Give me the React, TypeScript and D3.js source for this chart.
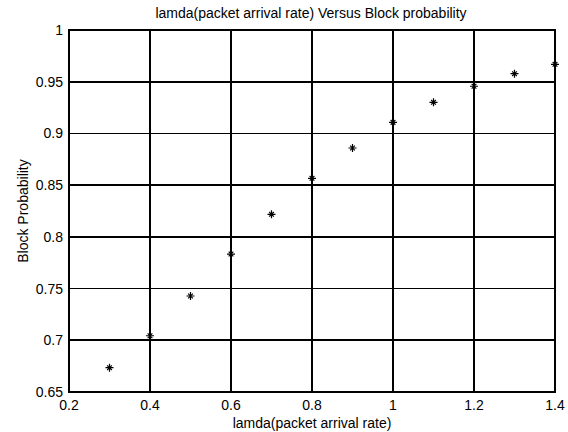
import * as d3 from "d3";

const width = 568;
const height = 432;
const margin = { left: 69, right: 13, top: 30, bottom: 40 };

const lamda = [0.3, 0.4, 0.5, 0.6, 0.7, 0.8, 0.9, 1.0, 1.1, 1.2, 1.3, 1.4];
const blockProb = [
  0.6735, 0.7044, 0.7428, 0.7834, 0.8218, 0.8566, 0.8859, 0.9107, 0.9301,
  0.9456, 0.9578, 0.9668,
];
const xTicks = [0.2, 0.4, 0.6, 0.8, 1, 1.2, 1.4];
const yTicks = [0.65, 0.7, 0.75, 0.8, 0.85, 0.9, 0.95, 1];

const title = "lamda(packet arrival rate) Versus Block probability";
const xLabel = "lamda(packet arrival rate)";
const yLabel = "Block Probability";

const font = "'Liberation Sans', Arial, sans-serif";

export default function App() {
  const x = d3
    .scaleLinear()
    .domain([0.2, 1.4])
    .range([margin.left, width - margin.right]);
  const y = d3
    .scaleLinear()
    .domain([0.65, 1])
    .range([height - margin.bottom, margin.top]);

  // MATLAB '*' marker = plus + small times
  const plus = d3.symbol(d3.symbolPlus, 23)();
  const times = d3.symbol(d3.symbolTimes, 16)();
  const [x0, x1] = x.range();
  const [y0, y1] = y.range();

  return (
    <div style={{ position: "absolute", left: 0, top: 0 }}>
      <svg width={width} height={height} style={{ display: "block", background: "#fff" }}>
        {/* grid */}
        <g stroke="#000" strokeWidth={1.7} shapeRendering="crispEdges">
          {xTicks.map((t) => (
            <line key={"gx" + t} x1={x(t)} x2={x(t)} y1={y1} y2={y0} />
          ))}
          {yTicks.map((t) => (
            <line key={"gy" + t} x1={x0} x2={x1} y1={y(t)} y2={y(t)} />
          ))}
        </g>
        <rect
          x={x0}
          y={y1}
          width={x1 - x0}
          height={y0 - y1}
          fill="none"
          stroke="#000"
          strokeWidth={2}
          shapeRendering="crispEdges"
        />

        {/* points */}
        <g stroke="#000" strokeWidth={1.2} fill="none">
          {lamda.map((d, i) => (
            <g key={d} transform={`translate(${x(d)},${y(blockProb[i])})`}>
              <path d={plus} />
              <path d={times} />
            </g>
          ))}
        </g>

        {/* tick labels */}
        <g fontFamily={font} fontSize={14} fill="#000">
          {xTicks.map((t) => (
            <text key={"tx" + t} x={x(t)} y={y0 + 18} textAnchor="middle">
              {d3.format("~g")(t)}
            </text>
          ))}
          {yTicks.map((t) => (
            <text key={"ty" + t} x={x0 - 6} y={y(t) + 5} textAnchor="end">
              {d3.format("~g")(t)}
            </text>
          ))}
        </g>

        <text
          x={(x0 + x1) / 2 - 1}
          y={18}
          textAnchor="middle"
          fontFamily={font}
          fontSize={14}
        >
          {title}
        </text>
        <text
          x={(x0 + x1) / 2}
          y={428}
          textAnchor="middle"
          fontFamily={font}
          fontSize={14}
        >
          {xLabel}
        </text>
        <text
          transform={`translate(28,${(y0 + y1) / 2}) rotate(-90)`}
          textAnchor="middle"
          fontFamily={font}
          fontSize={14}
        >
          {yLabel}
        </text>
      </svg>
    </div>
  );
}
